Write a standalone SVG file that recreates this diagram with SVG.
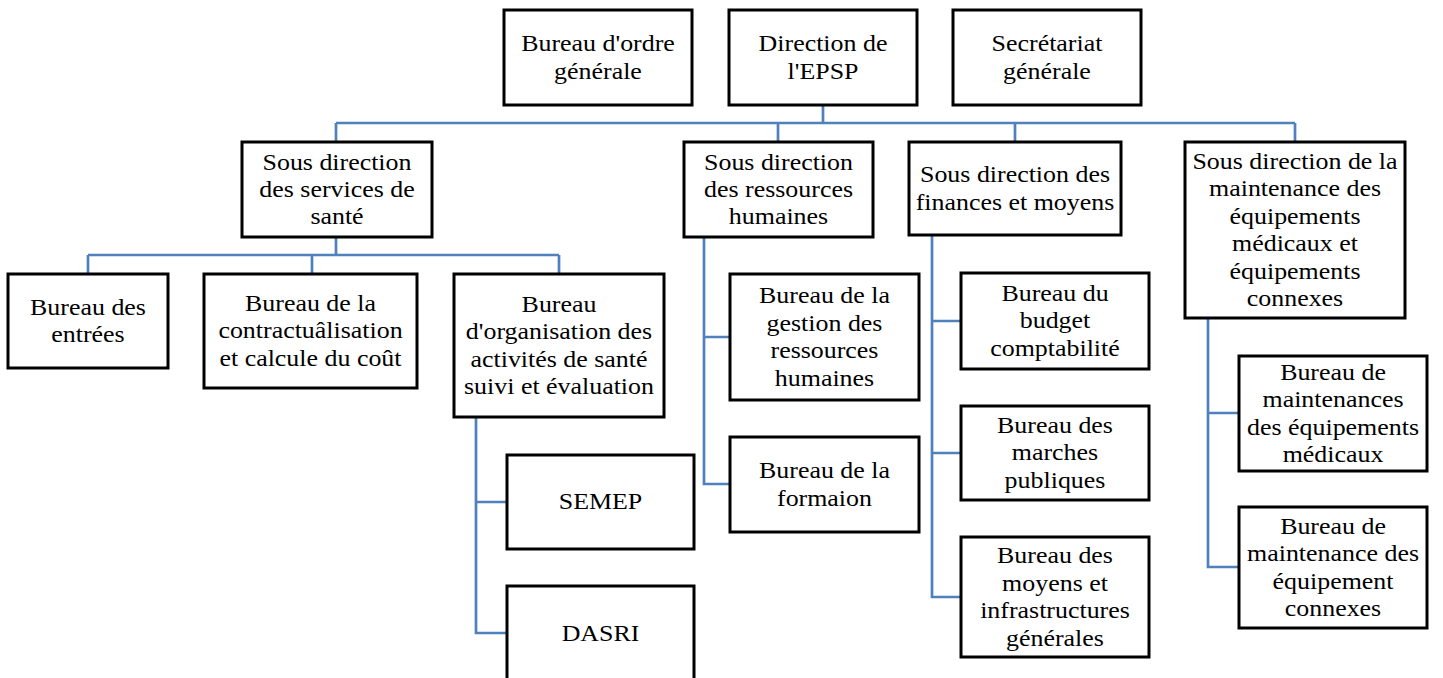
<svg xmlns="http://www.w3.org/2000/svg" width="1443" height="678" viewBox="0 0 1443 678">
<style>
.box{fill:#fff;stroke:#000;stroke-width:3}
.t{font-family:"Liberation Serif","Times New Roman",serif;font-size:24px;text-anchor:middle;fill:#000}
.c{fill:none;stroke:#4f81bd;stroke-width:2.7}
</style>
<rect width="1443" height="678" fill="#fff"/>
<g id="connectors">
<path class="c" d="M823 105V123M336 123H1295M336 123V142M778 123V142M1015 123V142M1295 123V142"/>
<path class="c" d="M336 237V255M88 255H559M88 255V274M312 255V274M559 255V274"/>
<path class="c" d="M476 417V633H507M476 502H507"/>
<path class="c" d="M704 237V484H730M704 337H730"/>
<path class="c" d="M932 235V597H961M932 321H961M932 453H961"/>
<path class="c" d="M1208 318V567H1239M1208 413H1239"/>
</g>
<g id="n-ordre"><rect class="box" x="504" y="10" width="188" height="95"/>
<text class="t" transform="translate(598 0) scale(1.08 1)"><tspan x="0" y="51.3">Bureau d'ordre</tspan><tspan x="0" y="78.7">générale</tspan></text></g>
<g id="n-direction"><rect class="box" x="729" y="10" width="188" height="95"/>
<text class="t" transform="translate(823 0) scale(1.08 1)"><tspan x="0" y="51.3">Direction de</tspan><tspan x="0" y="78.7">l'EPSP</tspan></text></g>
<g id="n-secretariat"><rect class="box" x="953" y="10" width="188" height="95"/>
<text class="t" transform="translate(1047 0) scale(1.08 1)"><tspan x="0" y="51.3">Secrétariat</tspan><tspan x="0" y="78.7">générale</tspan></text></g>
<g id="n-sante"><rect class="box" x="242" y="142" width="190" height="95"/>
<text class="t" transform="translate(337 0) scale(1.08 1)"><tspan x="0" y="169.6">Sous direction</tspan><tspan x="0" y="197">des services de</tspan><tspan x="0" y="224.4">santé</tspan></text></g>
<g id="n-rh"><rect class="box" x="684" y="142" width="189" height="95"/>
<text class="t" transform="translate(778.5 0) scale(1.08 1)"><tspan x="0" y="169.6">Sous direction</tspan><tspan x="0" y="197">des ressources</tspan><tspan x="0" y="224.4">humaines</tspan></text></g>
<g id="n-finances"><rect class="box" x="909" y="142" width="212" height="93"/>
<text class="t" transform="translate(1015 0) scale(1.08 1)"><tspan x="0" y="182.3">Sous direction des</tspan><tspan x="0" y="209.7">finances et moyens</tspan></text></g>
<g id="n-maintenance"><rect class="box" x="1185" y="142" width="220" height="176"/>
<text class="t" transform="translate(1295 0) scale(1.08 1)"><tspan x="0" y="169">Sous direction de la</tspan><tspan x="0" y="196.4">maintenance des</tspan><tspan x="0" y="223.8">équipements</tspan><tspan x="0" y="251.2">médicaux et</tspan><tspan x="0" y="278.6">équipements</tspan><tspan x="0" y="306">connexes</tspan></text></g>
<g id="n-entrees"><rect class="box" x="8" y="274" width="160" height="94"/>
<text class="t" transform="translate(88 0) scale(1.08 1)"><tspan x="0" y="314.8">Bureau des</tspan><tspan x="0" y="342.2">entrées</tspan></text></g>
<g id="n-contract"><rect class="box" x="204" y="274" width="213" height="114"/>
<text class="t" transform="translate(310.5 0) scale(1.08 1)"><tspan x="0" y="311.1">Bureau de la</tspan><tspan x="0" y="338.5">contractuâlisation</tspan><tspan x="0" y="365.9">et calcule du coût</tspan></text></g>
<g id="n-organisation"><rect class="box" x="454" y="274" width="210" height="143"/>
<text class="t" transform="translate(559 0) scale(1.08 1)"><tspan x="0" y="311.9">Bureau</tspan><tspan x="0" y="339.3">d'organisation des</tspan><tspan x="0" y="366.7">activités de santé</tspan><tspan x="0" y="394.1">suivi et évaluation</tspan></text></g>
<g id="n-semep"><rect class="box" x="507" y="455" width="187" height="94"/>
<text class="t" transform="translate(600.5 0) scale(1.08 1)"><tspan x="0" y="509.5">SEMEP</tspan></text></g>
<g id="n-dasri"><rect class="box" x="507" y="586" width="187" height="96"/>
<text class="t" transform="translate(600.5 0) scale(1.08 1)"><tspan x="0" y="641.5">DASRI</tspan></text></g>
<g id="n-gestion"><rect class="box" x="730" y="274" width="189" height="126"/>
<text class="t" transform="translate(824.5 0) scale(1.08 1)"><tspan x="0" y="303.4">Bureau de la</tspan><tspan x="0" y="330.8">gestion des</tspan><tspan x="0" y="358.2">ressources</tspan><tspan x="0" y="385.6">humaines</tspan></text></g>
<g id="n-formation"><rect class="box" x="730" y="437" width="189" height="95"/>
<text class="t" transform="translate(824.5 0) scale(1.08 1)"><tspan x="0" y="478.3">Bureau de la</tspan><tspan x="0" y="505.7">formaion</tspan></text></g>
<g id="n-budget"><rect class="box" x="961" y="273" width="188" height="96"/>
<text class="t" transform="translate(1055 0) scale(1.08 1)"><tspan x="0" y="301.1">Bureau du</tspan><tspan x="0" y="328.5">budget</tspan><tspan x="0" y="355.9">comptabilité</tspan></text></g>
<g id="n-marches"><rect class="box" x="961" y="406" width="188" height="94"/>
<text class="t" transform="translate(1055 0) scale(1.08 1)"><tspan x="0" y="433.1">Bureau des</tspan><tspan x="0" y="460.5">marches</tspan><tspan x="0" y="487.9">publiques</tspan></text></g>
<g id="n-moyens"><rect class="box" x="961" y="537" width="188" height="120"/>
<text class="t" transform="translate(1055 0) scale(1.08 1)"><tspan x="0" y="563.4">Bureau des</tspan><tspan x="0" y="590.8">moyens et</tspan><tspan x="0" y="618.2">infrastructures</tspan><tspan x="0" y="645.6">générales</tspan></text></g>
<g id="n-maint-med"><rect class="box" x="1239" y="356" width="188" height="115"/>
<text class="t" transform="translate(1333 0) scale(1.08 1)"><tspan x="0" y="379.9">Bureau de</tspan><tspan x="0" y="407.3">maintenances</tspan><tspan x="0" y="434.7">des équipements</tspan><tspan x="0" y="462.1">médicaux</tspan></text></g>
<g id="n-maint-connexes"><rect class="box" x="1239" y="507" width="188" height="121"/>
<text class="t" transform="translate(1333 0) scale(1.08 1)"><tspan x="0" y="533.9">Bureau de</tspan><tspan x="0" y="561.3">maintenance des</tspan><tspan x="0" y="588.7">équipement</tspan><tspan x="0" y="616.1">connexes</tspan></text></g>
</svg>
